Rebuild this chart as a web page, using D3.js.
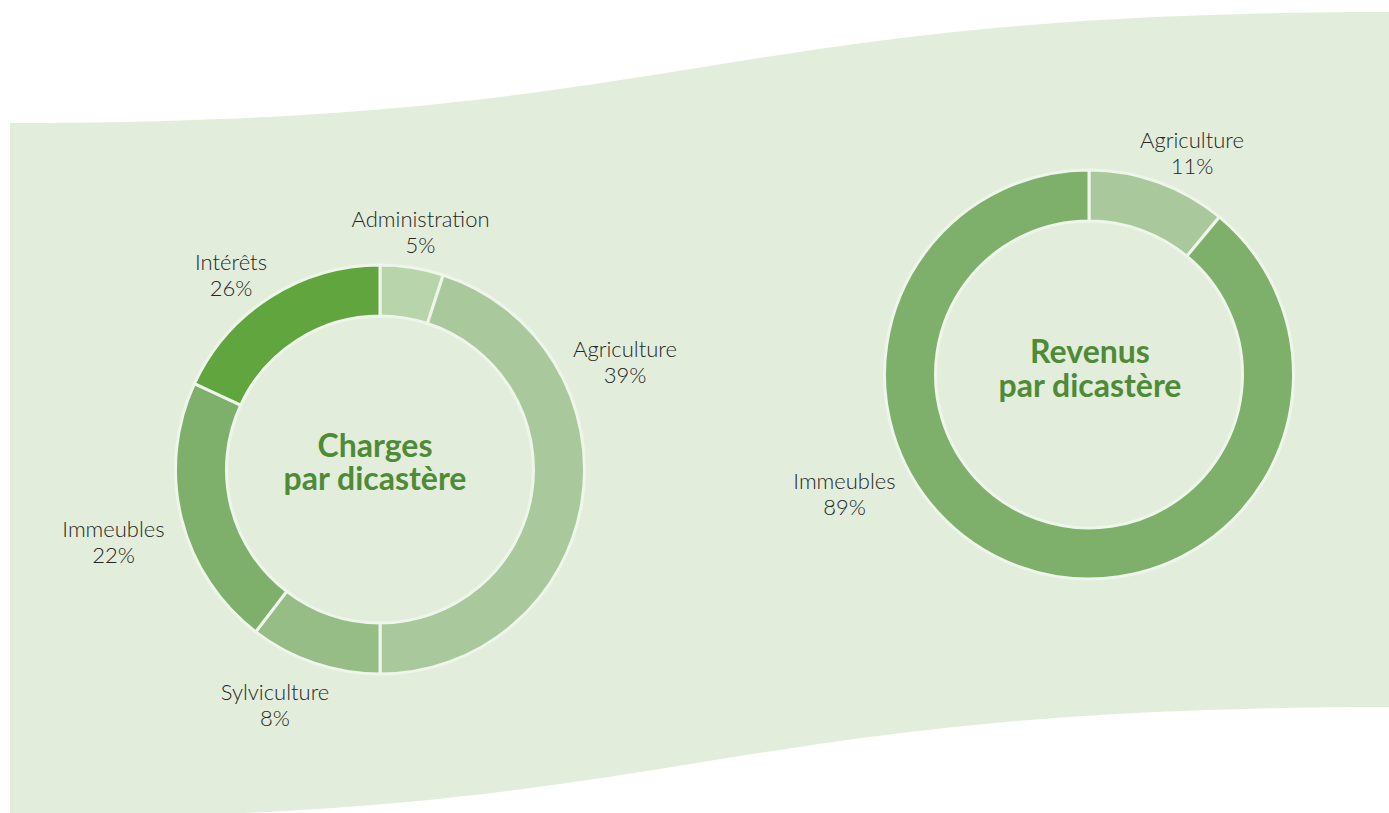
<!DOCTYPE html>
<html>
<head>
<meta charset="utf-8">
<script src="https://cdn.jsdelivr.net/npm/d3@7"></script>
<style>
  html, body { margin: 0; padding: 0; background: #ffffff; }
  svg { display: block; }
</style>
</head>
<body>
<svg id="chart" width="1389" height="813"></svg>
<script>
// ---- DATA ----
const chargesCategories = ["Administration", "Agriculture", "Sylviculture", "Immeubles", "Intérêts"];
const chargesShares = [5, 45, 10.4, 21.5, 18.1];           // arc sizes as drawn in the reference
const chargesLabels = ["5%", "39%", "8%", "22%", "26%"];    // printed percentages
const chargesColors = ["#b7d4ab", "#a9c89b", "#97bd87", "#7fb06b", "#60a53e"];

const revenusCategories = ["Agriculture", "Immeubles"];
const revenusShares = [11, 89];
const revenusLabels = ["11%", "89%"];
const revenusColors = ["#a9c89b", "#7fb06b"];

const chargesTitle = ["Charges", "par dicastère"];
const revenusTitle = ["Revenus", "par dicastère"];

// ---- LAYOUT ----
const svg = d3.select("#chart");
const bgColor = "#e2eedb";
const titleColor = "#4f8a37";
const textColor = "#262626";

// wavy background band
svg.append("path")
  .attr("d", "M10,123 C700,123 700,12 1389,12 L1389,707 C700,707 700,818 10,818 Z")
  .attr("fill", bgColor);

function donut(cx, cy, cats, shares, labels, colors, title, labelPos, titlePos) {
  const g = svg.append("g").attr("transform", `translate(${cx},${cy})`);
  const pie = d3.pie().sort(null).value(d => d.v);
  const data = cats.map((c, i) => ({ c, v: shares[i], l: labels[i], col: colors[i] }));
  const arc = d3.arc().innerRadius(153.5).outerRadius(204.5);
  g.selectAll("path.slice").data(pie(data)).enter().append("path")
    .attr("class", "slice")
    .attr("d", arc)
    .attr("fill", d => d.data.col)
    .attr("stroke", "#eef5ea")
    .attr("stroke-width", 3)
    .attr("stroke-linejoin", "miter");

  data.forEach((d, i) => {
    const p = labelPos[i];
    const t = g.append("text")
      .attr("text-anchor", "middle")
      .attr("font-family", "Lato, 'Open Sans', sans-serif")
      .attr("font-weight", 300)
      .attr("font-size", 22)
      .attr("fill", textColor);
    t.append("tspan").attr("x", p[0]).attr("y", p[1]).text(d.c);
    t.append("tspan").attr("x", p[0]).attr("y", p[1] + 26).text(d.l);
  });

  const tt = g.append("text")
    .attr("text-anchor", "middle")
    .attr("font-family", "Lato, 'Open Sans', sans-serif")
    .attr("font-weight", 700)
    .attr("font-size", 32)
    .attr("fill", titleColor);
  tt.append("tspan").attr("x", titlePos[0]).attr("y", titlePos[1]).text(title[0]);
  tt.append("tspan").attr("x", titlePos[0]).attr("y", titlePos[1] + titlePos[2]).text(title[1]);
}

// label anchor offsets (center x, first baseline) relative to donut centre
donut(380, 469.5, chargesCategories, chargesShares, chargesLabels, chargesColors, chargesTitle,
  [[40.5, -242.5], [245, -113], [-105, 230.5], [-266.5, 67], [-149, -199.5]],
  [-5, -12.5, 32.5]);

donut(1089, 374.5, revenusCategories, revenusShares, revenusLabels, revenusColors, revenusTitle,
  [[103, -226.5], [-244.5, 114]],
  [1, -12, 34]);
</script>
</body>
</html>
